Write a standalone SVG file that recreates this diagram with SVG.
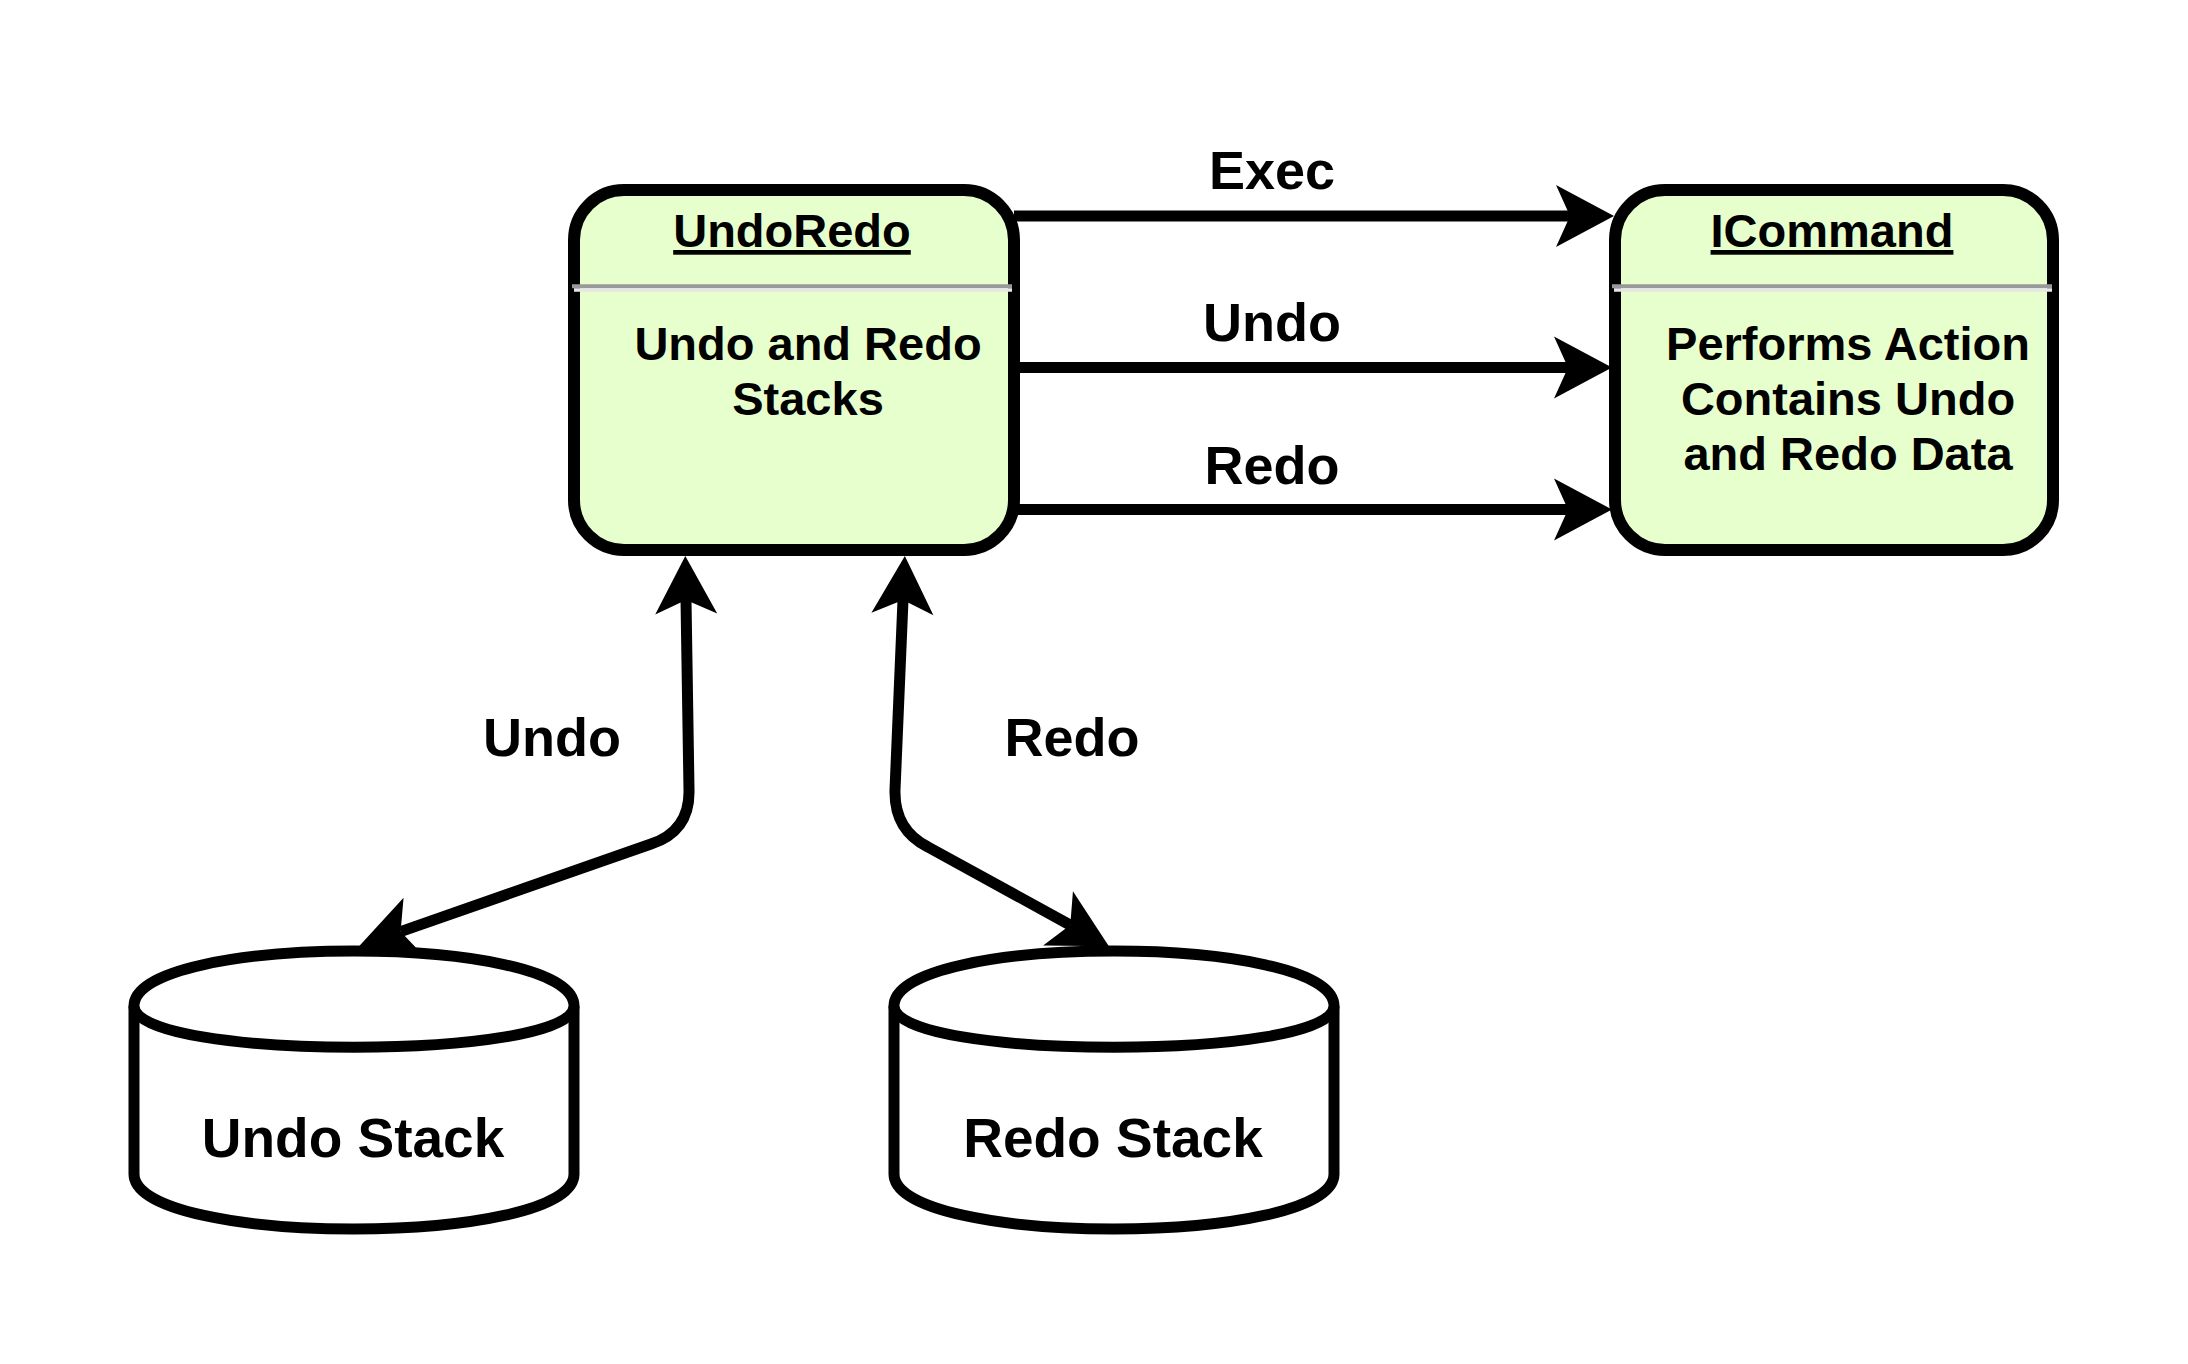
<svg xmlns="http://www.w3.org/2000/svg" width="2188" height="1364" viewBox="0 0 2188 1364">
<style>
.box{fill:#E6FFCC;stroke:#000;stroke-width:12}
.cyl{fill:#fff;stroke:#000;stroke-width:11;stroke-linejoin:round}
.sep{stroke:#999;stroke-width:4}
.sepl{stroke:#e6e6e6;stroke-width:3.5}
.t{font-family:"Liberation Sans",Arial,sans-serif;font-weight:bold;fill:#000;text-anchor:middle}
.title{font-size:47px;text-decoration:underline}
.body{font-size:47px}
.lbl{font-size:54px}
.cl{font-size:55px}
.edge{fill:none;stroke:#000;stroke-width:11;stroke-linejoin:round}
</style>
<defs>
<marker id="arr" markerUnits="userSpaceOnUse" viewBox="-16 -33 62 66" markerWidth="62" markerHeight="66" refX="0" refY="0" orient="auto-start-reverse" overflow="visible">
<path d="M44,0 L-14,-31 L0,0 L-14,31 Z" fill="#000"/>
</marker>
</defs>
<rect width="2188" height="1364" fill="#fff"/>
<g id="connectors">
<path class="edge" d="M1014 216 L1570 216" marker-end="url(#arr)"/>
<path class="edge" d="M1014 367.5 L1568 367.5" marker-end="url(#arr)"/>
<path class="edge" d="M1014 509.5 L1568 509.5" marker-end="url(#arr)"/>
<path class="edge" d="M686 600 L689 790 Q690 831 651 844 L400.6 931.6" marker-start="url(#arr)" marker-end="url(#arr)"/>
<path class="edge" d="M903 600 L895 790 Q894 830 928 847 L1070.3 925.1" marker-start="url(#arr)" marker-end="url(#arr)"/>
<text class="t lbl" x="1272" y="189">Exec</text>
<text class="t lbl" x="1272" y="341">Undo</text>
<text class="t lbl" x="1272" y="484">Redo</text>
<text class="t lbl" x="552" y="756">Undo</text>
<text class="t lbl" x="1072" y="756">Redo</text>
</g>
<g id="undoredo">
<rect class="box" x="574" y="190" width="440" height="360" rx="50" ry="50"/>
<line class="sep" x1="572" y1="286.3" x2="1012" y2="286.3"/>
<line class="sepl" x1="574" y1="290" x2="1012" y2="290"/>
<text class="t title" x="792" y="247">UndoRedo</text>
<text class="t body" x="808" y="360">Undo and Redo</text>
<text class="t body" x="808" y="415">Stacks</text>
</g>
<g id="icommand">
<rect class="box" x="1615" y="190" width="438" height="360" rx="50" ry="50"/>
<line class="sep" x1="1612" y1="286.3" x2="2052" y2="286.3"/>
<line class="sepl" x1="1614" y1="290" x2="2052" y2="290"/>
<text class="t title" x="1832" y="247">ICommand</text>
<text class="t body" x="1848" y="360">Performs Action</text>
<text class="t body" x="1848" y="415">Contains Undo</text>
<text class="t body" x="1848" y="470">and Redo Data</text>
</g>
<g id="undostack">
<path class="cyl" d="M134 1006 C134 932.7 574 932.7 574 1006 L574 1174 C574 1247.3 134 1247.3 134 1174 Z"/>
<path class="cyl" d="M134 1006 C134 1061 574 1061 574 1006"/>
<text class="t cl" x="353" y="1157">Undo Stack</text>
</g>
<g id="redostack">
<path class="cyl" d="M894 1006 C894 932.7 1334 932.7 1334 1006 L1334 1174 C1334 1247.3 894 1247.3 894 1174 Z"/>
<path class="cyl" d="M894 1006 C894 1061 1334 1061 1334 1006"/>
<text class="t cl" x="1113" y="1157">Redo Stack</text>
</g>
</svg>
